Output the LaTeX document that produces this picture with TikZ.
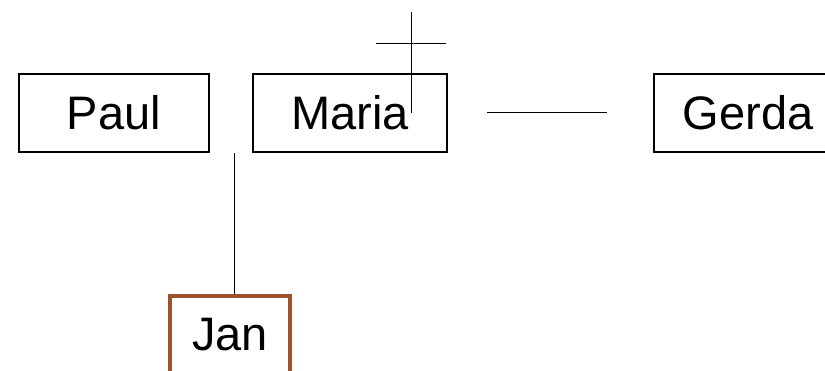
\documentclass[tikz,border=0pt]{standalone}
\usepackage{fontspec}
\setmainfont{Liberation Sans}
\definecolor{janbrown}{HTML}{A0522D}
\begin{document}
\begin{tikzpicture}[x=1pt,y=-1pt,
  namebox/.style={draw=black,line width=1.3pt,minimum width=190pt,minimum height=78pt,inner sep=0pt,font=\fontsize{47}{50}\selectfont},
  janbox/.style={draw=janbrown,line width=4pt,minimum width=120pt,minimum height=78pt,inner sep=0pt,font=\fontsize{47}{50}\selectfont},
  link/.style={draw=black,line width=1pt}]
\useasboundingbox (0,0) rectangle (825,371);
\clip (0,0) rectangle (825,371);
\node[namebox] (paul) at (114,113) {Paul};
\node[namebox,minimum width=194pt] (maria) at (350,113) {Maria};
\node[namebox] (gerda) at (749,113) {\hspace*{-2pt}Gerda};
\node[janbox] (jan) at (230,335) {Jan};
\coordinate (v1) at (234,153);
\coordinate (h1a) at (487,113);
\coordinate (h1b) at (607,113);
\coordinate (c1) at (411,12);
\coordinate (c2) at (411,113);
\coordinate (c3) at (376,44);
\coordinate (c4) at (446,44);
\draw[link] (v1) -- (jan.north -| v1);
\draw[link] (h1a) -- (h1b);
\draw[link] (c1) -- (c2);
\draw[link] (c3) -- (c4);
\end{tikzpicture}
\end{document}
